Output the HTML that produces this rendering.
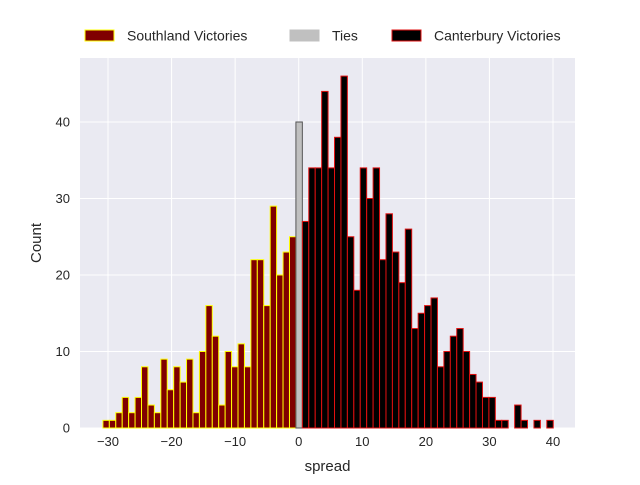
<!DOCTYPE html>
<html><head><meta charset="utf-8"><style>body{margin:0;background:#fff}svg{font-family:"Liberation Sans",sans-serif}</style></head>
<body>
<svg id="chart" width="640" height="480" viewBox="0 0 640 480"></svg>
<script>
const southlandCounts=[1,1,2,4,2,4,8,3,2,9,5,8,6,9,2,10,16,12,3,10,8,11,8,22,22,16,29,20,23,25];
const tiesCounts=[40];
const canterburyCounts=[27,34,34,44,34,38,46,25,18,34,30,34,22,28,23,19,26,13,15,16,17,8,10,12,13,10,7,6,4,4,1,1,0,3,1,0,1,0,1];
const binStart=-30.8, binWidth=1.012;
const xTicks=[-30,-20,-10,0,10,20,30,40];
const yTicks=[0,10,20,30,40];
const NS="http://www.w3.org/2000/svg";
const svg=document.getElementById('chart');
const L=80,R=575,T=58,B=428;
const xs=v=>108+(v+30)*6.357;
const ys=v=>B-v*7.65;
function mk(t,a,p){const e=document.createElementNS(NS,t);for(const k in a)e.setAttribute(k,a[k]);(p||svg).appendChild(e);return e;}
const bg=mk('rect',{x:L,y:T,width:R-L,height:B-T,fill:'#eaeaf2'});


xTicks.forEach(v=>{const g=mk('line',{x1:xs(v),x2:xs(v),y1:T,y2:B,stroke:'#fff','stroke-width':1});


const t=mk('text',{x:xs(v),y:446,'text-anchor':'middle','font-size':13,fill:'#262626'});t.textContent=v<0?'\u2212'+(-v):v;

});
yTicks.forEach(v=>{const g=mk('line',{x1:L,x2:R,y1:ys(v),y2:ys(v),stroke:'#fff','stroke-width':1});


const t=mk('text',{x:70,y:ys(v)+4.5,'text-anchor':'end','font-size':13,fill:'#262626'});t.textContent=v;

});
function bars(arr,offset,fill,stroke,name){arr.forEach((c,i)=>{if(!c)return;const x0=xs(binStart+(offset+i)*binWidth),x1=xs(binStart+(offset+i+1)*binWidth);
const r=mk('rect',{x:x0,y:ys(c),width:x1-x0,height:ys(0)-ys(c),fill:fill,stroke:stroke,'stroke-width':1});

});}
bars(southlandCounts,0,'#800000','#ffff00','southland-bar');
bars(tiesCounts,southlandCounts.length,'#c0c0c0','#555','ties-bar');
bars(canterburyCounts,southlandCounts.length+1,'#000','#e01010','canterbury-bar');
const xl=mk('text',{x:(L+R)/2,y:471,'text-anchor':'middle','font-size':15,fill:'#262626'});xl.textContent='spread';


const yl=mk('text',{x:41,y:(T+B)/2,'text-anchor':'middle','font-size':15,fill:'#262626',transform:`rotate(-90 41 ${(T+B)/2})`});yl.textContent='Count';


[[85,'#800000','#ffff00','Southland Victories','legend-southland'],[290,'#c0c0c0','#c0c0c0','Ties','legend-ties'],[392,'#000','#e01010','Canterbury Victories','legend-canterbury']].forEach(d=>{
const g=mk('g',{});


mk('rect',{x:d[0],y:30,width:29,height:11,fill:d[1],stroke:d[2],'stroke-width':1},g);
const t=mk('text',{x:d[0]+42,y:40.5,'font-size':14,fill:'#262626'},g);t.textContent=d[3];});
</script>
</body></html>
